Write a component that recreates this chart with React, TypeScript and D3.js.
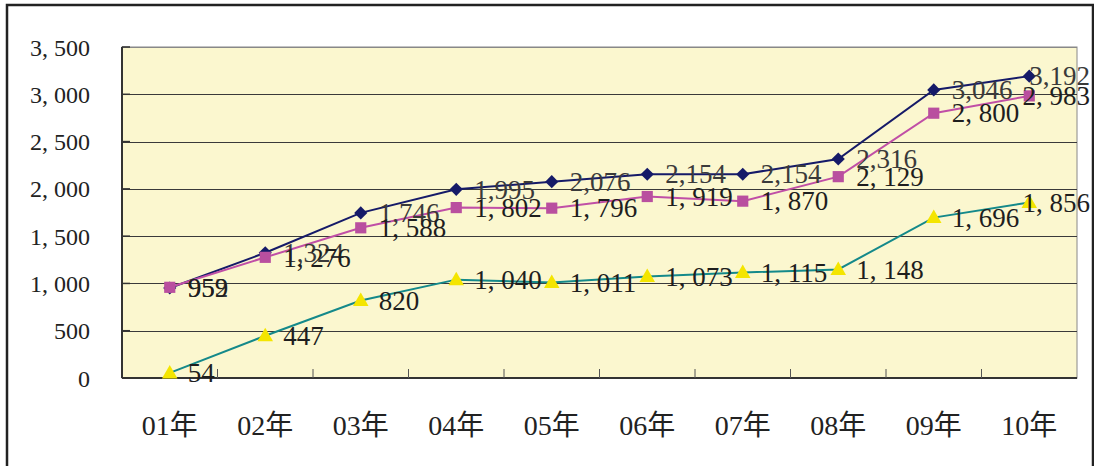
import React from "react";
import * as d3 from "d3";

const years = ["01年", "02年", "03年", "04年", "05年", "06年", "07年", "08年", "09年", "10年"];
const seriesNavy = [952, 1324, 1746, 1995, 2076, 2154, 2154, 2316, 3046, 3192];
const seriesPink = [959, 1276, 1588, 1802, 1796, 1919, 1870, 2129, 2800, 2983];
const seriesTeal = [54, 447, 820, 1040, 1011, 1073, 1115, 1148, 1696, 1856];
const yTicks = [0, 500, 1000, 1500, 2000, 2500, 3000, 3500];

const W = 1094;
const H = 466;
const plot = { left: 122, right: 1077, top: 47, bottom: 378 };
const serif = "'Liberation Serif', 'Noto Sans CJK SC', serif";

const x = d3.scaleBand<string>().domain(years).range([plot.left, plot.right]);
const y = d3.scaleLinear().domain([0, 3500]).range([plot.bottom, plot.top]);
const cx = (i: number) => (x(years[i]) as number) + x.bandwidth() / 2;

const line = d3
  .line<number>()
  .x((_, i) => cx(i))
  .y((v) => y(v));

const fmtTight = d3.format(",");
const fmtSpaced = (v: number) => d3.format(",")(v).replace(",", ", ");

type Series = {
  values: number[];
  stroke: string;
  fill: string;
  symbol: d3.SymbolType;
  size: number;
  fmt: (v: number) => string;
  labelColor: string;
};

const series: Series[] = [
  { values: seriesNavy, stroke: "#151a68", fill: "#151a68", symbol: d3.symbolDiamond2, size: 110, fmt: fmtTight, labelColor: "#3a3a3a" },
  { values: seriesPink, stroke: "#c04fa6", fill: "#b94f9f", symbol: d3.symbolSquare, size: 125, fmt: fmtSpaced, labelColor: "#1e1e1e" },
  { values: seriesTeal, stroke: "#14898a", fill: "#f4e500", symbol: d3.symbolTriangle, size: 105, fmt: fmtSpaced, labelColor: "#1e1e1e" },
];

const last = years.length - 1;

export default function App() {
  return (
    <svg
      width={W}
      height={H}
      style={{ position: "absolute", left: 0, top: 0, background: "#fff" }}
    >
      {/* outer frame */}
      <rect x={7} y={5} width={1086} height={480} fill="#fff" stroke="#222" strokeWidth={2.5} />

      {/* plot area */}
      <rect
        x={plot.left}
        y={plot.top}
        width={plot.right - plot.left}
        height={plot.bottom - plot.top}
        fill="#fbf7cf"
        stroke="#888"
        strokeWidth={1}
      />

      {/* horizontal gridlines */}
      {yTicks.slice(1).map((t) => (
        <line
          key={t}
          x1={plot.left}
          x2={plot.right}
          y1={Math.round(y(t)) + 0.5}
          y2={Math.round(y(t)) + 0.5}
          stroke={t === 3500 ? "#888" : "#3a3a3a"}
          strokeWidth={1}
        />
      ))}

      {/* axes */}
      <line x1={plot.left} x2={plot.left} y1={plot.top} y2={plot.bottom} stroke="#333" strokeWidth={2} />
      <line x1={plot.left} x2={plot.right} y1={plot.bottom} y2={plot.bottom} stroke="#333" strokeWidth={2} />

      {/* y ticks and labels */}
      {yTicks.map((t) => (
        <g key={t}>
          <line x1={plot.left} x2={plot.left + 8} y1={y(t)} y2={y(t)} stroke="#333" strokeWidth={1.5} />
          <text
            x={90}
            y={y(t) + 3}
            textAnchor="end"
            dominantBaseline="middle"
            fontFamily={serif}
            fontSize={24}
            fill="#222"
          >
            {fmtSpaced(t)}
          </text>
        </g>
      ))}

      {/* x category ticks */}
      {years.slice(1).map((c) => (
        <line
          key={c}
          x1={x(c) as number}
          x2={x(c) as number}
          y1={plot.bottom}
          y2={plot.bottom - 9}
          stroke="#555"
          strokeWidth={1}
        />
      ))}

      {/* x labels */}
      {years.map((c, i) => (
        <text
          key={c}
          x={cx(i)}
          y={435}
          textAnchor="middle"
          fontFamily={serif}
          fontSize={28}
          fill="#222"
        >
          {c}
        </text>
      ))}

      {/* lines */}
      {series.map((s, k) => (
        <path key={k} d={line(s.values) as string} fill="none" stroke={s.stroke} strokeWidth={2} />
      ))}

      {/* markers */}
      {series.map((s, k) =>
        s.values.map((v, i) => (
          <path
            key={`${k}-${i}`}
            d={d3.symbol().type(s.symbol).size(s.size)() as string}
            transform={`translate(${cx(i)},${y(v) + (s.symbol === d3.symbolTriangle ? 1 : 0)})`}
            fill={s.fill}
          />
        ))
      )}

      {/* value labels; the last column is pulled back inside the frame */}
      {series.map((s, k) =>
        s.values.map((v, i) => (
          <text
            key={`l${k}-${i}`}
            x={i === last ? 1090 : cx(i) + 18}
            y={y(v) + 3}
            textAnchor={i === last ? "end" : "start"}
            dominantBaseline="middle"
            fontFamily={serif}
            fontSize={27}
            fill={s.labelColor}
          >
            {s.fmt(v)}
          </text>
        ))
      )}
    </svg>
  );
}
